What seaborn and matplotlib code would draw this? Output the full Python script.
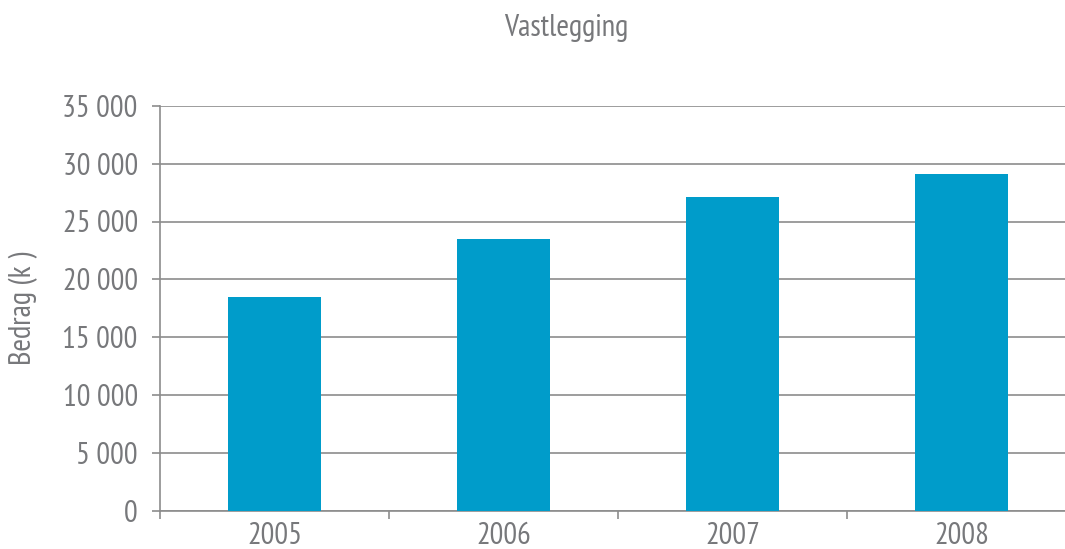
import matplotlib
matplotlib.use("Agg")
import matplotlib.pyplot as plt
import matplotlib.ticker as mticker
import seaborn as sns
import pandas as pd

years = ["2005", "2006", "2007", "2008"]
values = [18500, 23500, 27100, 29100]
title = "Vastlegging"
ylabel = "Bedrag (k )"

sns.set_theme(style="white")
plt.rcParams['font.family'] = ['PT Sans Narrow', 'Roboto Condensed', 'Fira Sans Condensed',
                               'Archivo Narrow', 'DejaVu Sans']

txt = "#77787b"
grid = "#8c8c8c"
bar_color = "#009cca"

fig = plt.figure(figsize=(10.65, 5.49), dpi=100)
ax = fig.add_axes([160/1065, 38/549, (1076-160)/1065, (511-105.7)/549])

df = pd.DataFrame({"year": years, "value": values})
sns.barplot(data=df, x="year", y="value", color=bar_color, width=0.41,
            saturation=1, linewidth=0, ax=ax, zorder=3)

ax.set_ylim(0, 35000)
ax.set_xlim(-0.5, 3.5)
ax.yaxis.set_major_locator(mticker.MultipleLocator(5000))
ax.yaxis.set_major_formatter(mticker.FuncFormatter(lambda v, p: f"{int(v):,}".replace(",", " ")))
ax.yaxis.grid(True, color=grid, linewidth=1.2, zorder=0)
ax.set_axisbelow(True)

for s in ["top", "right"]:
    ax.spines[s].set_visible(False)
ax.spines["left"].set_color(grid)
ax.spines["bottom"].set_color(grid)
ax.spines["left"].set_linewidth(1.2)
ax.spines["bottom"].set_linewidth(1.2)

ax.tick_params(axis="y", which="major", direction="out", length=6, width=1.2,
               color=grid, labelcolor=txt, labelsize=22, pad=10, left=True)
ax.xaxis.set_minor_locator(mticker.FixedLocator([-0.5, 0.5, 1.5, 2.5]))
ax.tick_params(axis="x", which="major", length=0, labelcolor=txt, labelsize=22, pad=8)
ax.tick_params(axis="x", which="minor", direction="out", length=6, width=1.2,
               color=grid, bottom=True)

ax.set_xlabel("")
ax.set_ylabel(ylabel, color=txt, fontsize=22)
ax.yaxis.set_label_coords(-122 / (1076-160), 0.5)

fig.text(566/1065, 1 - 28/549, title, ha="center", va="center", color=txt, fontsize=22)

fig.savefig("out.png", dpi=100)
